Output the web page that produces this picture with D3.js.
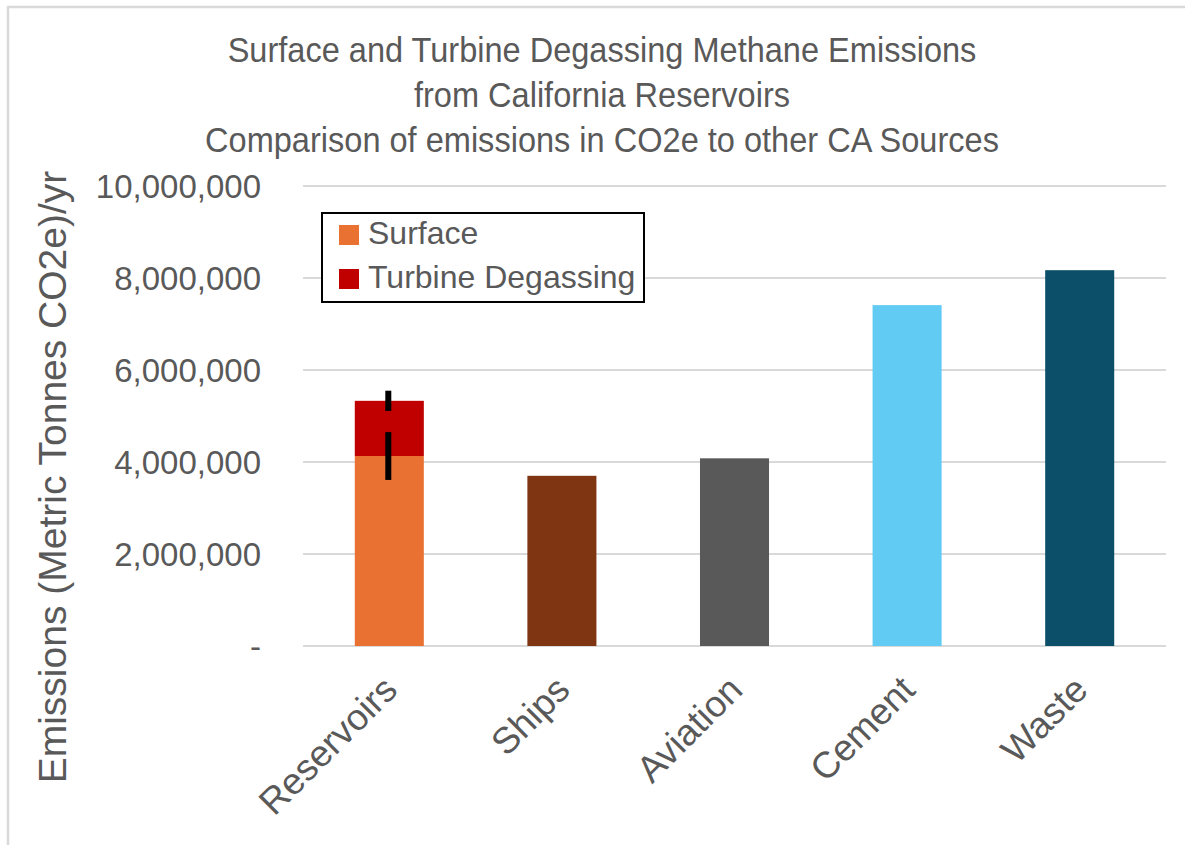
<!DOCTYPE html>
<html>
<head>
<meta charset="utf-8">
<script src="https://cdn.jsdelivr.net/npm/d3@7"></script>
<style>
  body { margin: 0; background: #fff; }
  svg { display: block; }
</style>
</head>
<body>
<div id="chart"></div>
<script>

// categories and values
var categories = ["Reservoirs", "Ships", "Aviation", "Cement", "Waste"];
var baseValues = [4130000, 3700000, 4080000, 7410000, 8170000];
var turbineValues = [1200000, 0, 0, 0, 0];
var baseErrors = [520000, 0, 0, 0, 0];
var turbineErrors = [220000, 0, 0, 0, 0];
var barColors = ["#E97132", "#7F3511", "#595959", "#61CBF3", "#0B4F69"];
var yTicks = [0, 2000000, 4000000, 6000000, 8000000, 10000000];
var titleLines = [
	"Surface and Turbine Degassing Methane Emissions",
	"from California Reservoirs",
	"Comparison of emissions in CO2e to other CA Sources"
];
var legendLabels = ["Surface", "Turbine Degassing"];
var legendColors = ["#E97132", "#C00000"];

var w = 1185;
var h = 845;
var textColor = "#595959";

var svg = d3.select("#chart")
			.append("svg")
			.attr("width", w)
			.attr("height", h);

// chart area border (only top and left are visible in the picture)
svg.append("rect")
	.attr("x", 8)
	.attr("y", 7)
	.attr("width", w + 20)
	.attr("height", h + 20)
	.style("fill", "none")
	.style("stroke", "#d9d9d9")
	.style("stroke-width", 2.5);

//Create scale functions
var xScale = d3.scaleBand()
			.domain(categories)
			.range([303, 1166])
			.paddingInner(0.6)
			.paddingOuter(0.3);

var yScale = d3.scaleLinear()
			.domain([0, 10000000])
			.range([646, 186]);

// gridlines
svg.append("g")
	.selectAll("line")
	.data(yTicks)
	.enter()
	.append("line")
		.attr("x1", 303)
		.attr("x2", 1166)
		.attr("y1", function(d) { return yScale(d); })
		.attr("y2", function(d) { return yScale(d); })
		.style("stroke", "#d9d9d9")
		.style("stroke-width", 2);

//Define Y axis
var yAxis = d3.axisLeft()
			.scale(yScale)
			.tickValues(yTicks)
			.tickSize(0)
			.tickPadding(0)
			.tickFormat(function(d) { return d === 0 ? "-  " : d3.format(",")(d); });

var yG = svg.append("g")
	.attr("class", "yAxis")
	.attr("transform", "translate(261,0)")
	.call(yAxis);
yG.select(".domain").remove();
yG.selectAll("text")
	.style("font-family", "'Liberation Sans', Arial, sans-serif")
	.style("font-size", "33px")
	.style("fill", textColor)
	.attr("dy", "0.36em");

// bars: base series
svg.append("g")
	.selectAll("rect")
	.data(categories)
	.enter()
	.append("rect")
		.attr("x", function(d) { return xScale(d); })
		.attr("y", function(d, i) { return yScale(baseValues[i]); })
		.attr("width", xScale.bandwidth())
		.attr("height", function(d, i) { return yScale(0) - yScale(baseValues[i]); })
		.style("fill", function(d, i) { return barColors[i]; });

// bars: turbine degassing stacked on top
svg.append("g")
	.selectAll("rect")
	.data(categories.filter(function(d, i) { return turbineValues[i] > 0; }))
	.enter()
	.append("rect")
		.attr("x", function(d) { return xScale(d); })
		.attr("y", function(d) {
			var i = categories.indexOf(d);
			return yScale(baseValues[i] + turbineValues[i]);
		})
		.attr("width", xScale.bandwidth())
		.attr("height", function(d) {
			var i = categories.indexOf(d);
			return yScale(baseValues[i]) - yScale(baseValues[i] + turbineValues[i]);
		})
		.style("fill", legendColors[1]);

// error bars
var errG = svg.append("g");
categories.forEach(function(c, i) {
	var cx = xScale(c) + xScale.bandwidth() / 2 - 1;
	if (baseErrors[i] > 0) {
		errG.append("line")
			.attr("x1", cx).attr("x2", cx)
			.attr("y1", yScale(baseValues[i] - baseErrors[i]))
			.attr("y2", yScale(baseValues[i] + baseErrors[i]))
			.style("stroke", "#000")
			.style("stroke-width", 6);
	}
	if (turbineErrors[i] > 0) {
		var top = baseValues[i] + turbineValues[i];
		errG.append("line")
			.attr("x1", cx).attr("x2", cx)
			.attr("y1", yScale(top - turbineErrors[i]))
			.attr("y2", yScale(top + turbineErrors[i]))
			.style("stroke", "#000")
			.style("stroke-width", 6);
	}
});

// x labels, rotated
svg.append("g")
	.selectAll("text")
	.data(categories)
	.enter()
	.append("text")
		.attr("text-anchor", "end")
		.attr("transform", function(d) {
			var x = xScale(d) + xScale.bandwidth() / 2 + 10;
			return "translate(" + x + ",692) rotate(-45)";
		})
		.style("font-family", "'Liberation Sans', Arial, sans-serif")
		.style("font-size", "37px")
		.style("fill", textColor)
		.text(function(d) { return d; });

// title (condensed face is not installed, so squeeze horizontally)
svg.append("g")
	.attr("transform", "translate(602,0) scale(0.93,1)")
	.selectAll("text")
	.data(titleLines)
	.enter()
	.append("text")
		.attr("x", 0)
		.attr("y", function(d, i) { return 62 + i * 45; })
		.attr("text-anchor", "middle")
		.style("font-family", "'Liberation Sans', sans-serif")
		.style("font-size", "35px")
		.style("fill", textColor)
		.text(function(d) { return d; });

// y axis title
svg.append("text")
	.attr("text-anchor", "middle")
	.attr("transform", "translate(66,477) rotate(-90)")
	.style("font-family", "'Liberation Sans', Arial, sans-serif")
	.style("font-size", "39px")
	.style("fill", textColor)
	.text("Emissions (Metric Tonnes CO2e)/yr");

// legend
var legend = svg.append("g");
legend.append("rect")
	.attr("x", 322)
	.attr("y", 213)
	.attr("width", 322)
	.attr("height", 89)
	.style("fill", "#fff")
	.style("stroke", "#000")
	.style("stroke-width", 2);

legendLabels.forEach(function(l, i) {
	legend.append("rect")
		.attr("x", 339)
		.attr("y", 225 + i * 44)
		.attr("width", 20)
		.attr("height", 20)
		.style("fill", legendColors[i]);
	legend.append("text")
		.attr("x", 368)
		.attr("y", 244 + i * 44)
		.style("font-family", "'Liberation Sans', Arial, sans-serif")
		.style("font-size", "32px")
		.style("fill", textColor)
		.text(l);
});

</script>
</body>
</html>
